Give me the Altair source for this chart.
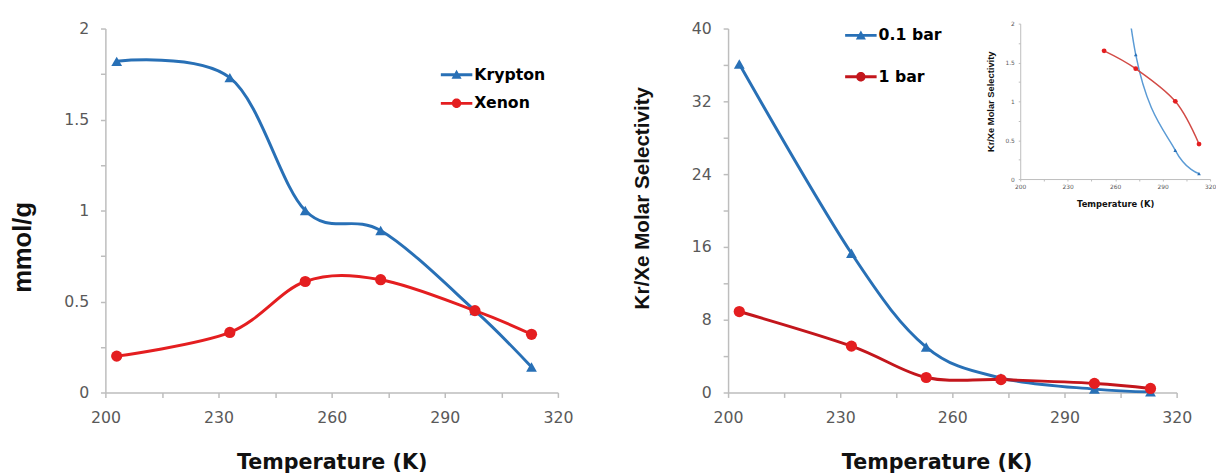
import altair as alt
import pandas as pd

# ---------------- data ----------------
temps = [203, 233, 253, 273, 298, 313]
krypton = [1.82, 1.73, 1.00, 0.89, 0.45, 0.14]
xenon = [0.20, 0.33, 0.61, 0.62, 0.45, 0.32]
sel_01bar = [36.1, 15.3, 5.0, 1.6, 0.37, 0.07]
sel_1bar = [8.9, 5.1, 1.65, 1.42, 1.0, 0.45]
inset_min_temp = 253

gas_names = ["Krypton", "Xenon"]
pressure_names = ["0.1 bar", "1 bar"]

x_ticks = list(range(200, 321, 15))
left_y_ticks = [i * 0.25 for i in range(9)]
right_y_ticks = list(range(0, 41, 4))

# ---------------- styles ----------------
BLUE = "#2870B6"
RED = "#E41E20"
DARKRED = "#C3161C"
INSET_BLUE = "#5B9BD5"
INSET_RED = "#D24B46"
AXIS_GRAY = "#bdbdbd"
LABEL_GRAY = "#595959"
LABEL_FONT = "DejaVu Sans"
YTITLE_FONT = "Liberation Sans"

# filled legend symbols: a thin bar (the line) plus the marker
TRI_PATH = "M-1,-0.09H1V0.09H-1ZM-0.32,0.26L0,-0.32L0.32,0.26Z"
CIRC_PATH = "M-1,-0.09H1V0.09H-1ZM0.3,0A0.3,0.3 0 1 1 -0.3,0A0.3,0.3 0 1 1 0.3,0Z"

left_df = pd.DataFrame({
    "T": temps * 2,
    "v": krypton + xenon,
    "series": [gas_names[0]] * len(temps) + [gas_names[1]] * len(temps),
})
right_df = pd.DataFrame({
    "T": temps * 2,
    "v": sel_01bar + sel_1bar,
    "series": [pressure_names[0]] * len(temps) + [pressure_names[1]] * len(temps),
})
inset_df = right_df[right_df["T"] >= inset_min_temp]


def x_axis(title, **kw):
    base = dict(values=x_ticks,
                labelExpr="(datum.value - 200) % 30 == 0 ? format(datum.value, 'd') : ''",
                title=title, grid=False, domainColor=AXIS_GRAY, tickColor=AXIS_GRAY,
                domainWidth=1.5, tickWidth=1.5, tickSize=5,
                labelFont=LABEL_FONT, labelFontSize=16, labelColor=LABEL_GRAY,
                labelPadding=13, labelFlush=False, labelOverlap=False,
                titleFont=LABEL_FONT, titleFontSize=21, titleFontWeight="bold",
                titleColor="#111111", titlePadding=26)
    base.update(kw)
    return alt.Axis(**base)


def y_axis(title, values, step, **kw):
    base = dict(values=values,
                labelExpr=f"datum.value % {step} == 0 ? format(datum.value, '~g') : ''",
                title=title, grid=False, domainColor=AXIS_GRAY, tickColor=AXIS_GRAY,
                domainWidth=1.5, tickWidth=1.5, tickSize=5,
                labelFont=LABEL_FONT, labelFontSize=16, labelColor=LABEL_GRAY,
                labelPadding=12, labelFlush=False, labelOverlap=False,
                titleFont=YTITLE_FONT, titleFontSize=22, titleFontWeight="bold",
                titleColor="#111111", titlePadding=24)
    base.update(kw)
    return alt.Axis(**base)


def legend(x, y, row_pad):
    return alt.Legend(title=None, orient="none", legendX=x, legendY=y,
                      symbolSize=1024, symbolOpacity=1, symbolStrokeWidth=0,
                      labelFont=LABEL_FONT, labelFontSize=16, labelFontWeight="bold",
                      labelColor="black", labelOffset=2, rowPadding=row_pad)


def legend_layer(df, names, colors, shapes, x, y, leg):
    # invisible marks: they only carry the legend (line + marker symbols)
    return alt.Chart(df).mark_point(filled=True, opacity=0).encode(
        x=x, y=y,
        color=alt.Color("series:N", scale=alt.Scale(domain=names, range=colors), legend=leg),
        shape=alt.Shape("series:N", scale=alt.Scale(domain=names, range=shapes), legend=leg),
    )


def series_line(df, name, color, x, y, width=3, clip=False):
    return alt.Chart(df).transform_filter(alt.datum.series == name).mark_line(
        interpolate="cardinal", strokeWidth=width, color=color, clip=clip).encode(x=x, y=y)


def series_points(df, name, shape, color, size, x, y, clip=False):
    return alt.Chart(df).transform_filter(alt.datum.series == name).mark_point(
        shape=shape, filled=True, size=size, opacity=1, color=color, clip=clip).encode(x=x, y=y)


W, H = 460, 370

# ---------------- left panel ----------------
lx = alt.X("T:Q", scale=alt.Scale(domain=[200, 320], nice=False, zero=False),
           axis=x_axis("Temperature (K)"))
ly = alt.Y("v:Q", scale=alt.Scale(domain=[0, 2], nice=False),
           axis=y_axis("mmol/g", left_y_ticks, 0.5, titleFontSize=26, titleY=222,
                       titlePadding=29))

left = alt.layer(
    series_line(left_df, gas_names[0], BLUE, lx, ly),
    series_line(left_df, gas_names[1], RED, lx, ly),
    series_points(left_df, gas_names[0], "triangle-up", BLUE, 120, lx, ly),
    series_points(left_df, gas_names[1], "circle", RED, 130, lx, ly),
    legend_layer(left_df, gas_names, [BLUE, RED], [TRI_PATH, CIRC_PATH], lx, ly,
                 legend(341, 31, 5)),
).properties(width=W, height=H)

# ---------------- right panel ----------------
RW = 456
rx = alt.X("T:Q", scale=alt.Scale(domain=[200, 320], range=[0, RW], nice=False, zero=False),
           axis=x_axis("Temperature (K)", titleX=212))
ry = alt.Y("v:Q", scale=alt.Scale(domain=[0, 40], nice=False),
           axis=y_axis("Kr/Xe Molar Selectivity", right_y_ticks, 8, titleFontSize=21,
                       titlePadding=40, titleY=172))

right_main = alt.layer(
    series_line(right_df, pressure_names[0], BLUE, rx, ry),
    series_line(right_df, pressure_names[1], DARKRED, rx, ry),
    series_points(right_df, pressure_names[0], "triangle-up", BLUE, 120, rx, ry),
    series_points(right_df, pressure_names[1], "circle", RED, 130, rx, ry),
    legend_layer(right_df, pressure_names, [BLUE, DARKRED], [TRI_PATH, CIRC_PATH], rx, ry,
                 legend(119, -9, 18)),
)

# inset
ix = alt.X("T:Q", scale=alt.Scale(domain=[200, 320], range=[297, 490], nice=False, zero=False),
           axis=x_axis("Temperature (K)", orient="bottom", offset=-217, labelFontSize=6,
                       tickSize=2, tickWidth=1, domainWidth=1, labelPadding=3,
                       titleFontSize=8.5, titlePadding=10))
iy = alt.Y("v:Q", scale=alt.Scale(domain=[0, 2], range=[153, -5], nice=False),
           axis=y_axis("Kr/Xe Molar Selectivity", left_y_ticks, 0.5, orient="left", offset=-297,
                       labelFontSize=6, tickSize=2, tickWidth=1, domainWidth=1, labelPadding=4,
                       titleFontSize=9.5, titlePadding=10))

inset = alt.layer(
    series_line(inset_df, pressure_names[0], INSET_BLUE, ix, iy, width=1.5, clip=True),
    series_line(inset_df, pressure_names[1], INSET_RED, ix, iy, width=1.5, clip=True),
    series_points(inset_df, pressure_names[0], "triangle-up", BLUE, 14, ix, iy, clip=True),
    series_points(inset_df, pressure_names[1], "circle", RED, 24, ix, iy, clip=True),
)

right = alt.layer(right_main, inset).resolve_scale(
    x="independent", y="independent").properties(width=494, height=H)

chart = alt.hconcat(left, right, spacing=58).resolve_scale(
    x="independent", y="independent", color="independent", shape="independent",
).properties(
    padding={"left": 1, "top": 8, "right": 0, "bottom": 0}
).configure_view(stroke=None)

chart.save("out.html", embed_options={"renderer": "svg", "actions": False})
